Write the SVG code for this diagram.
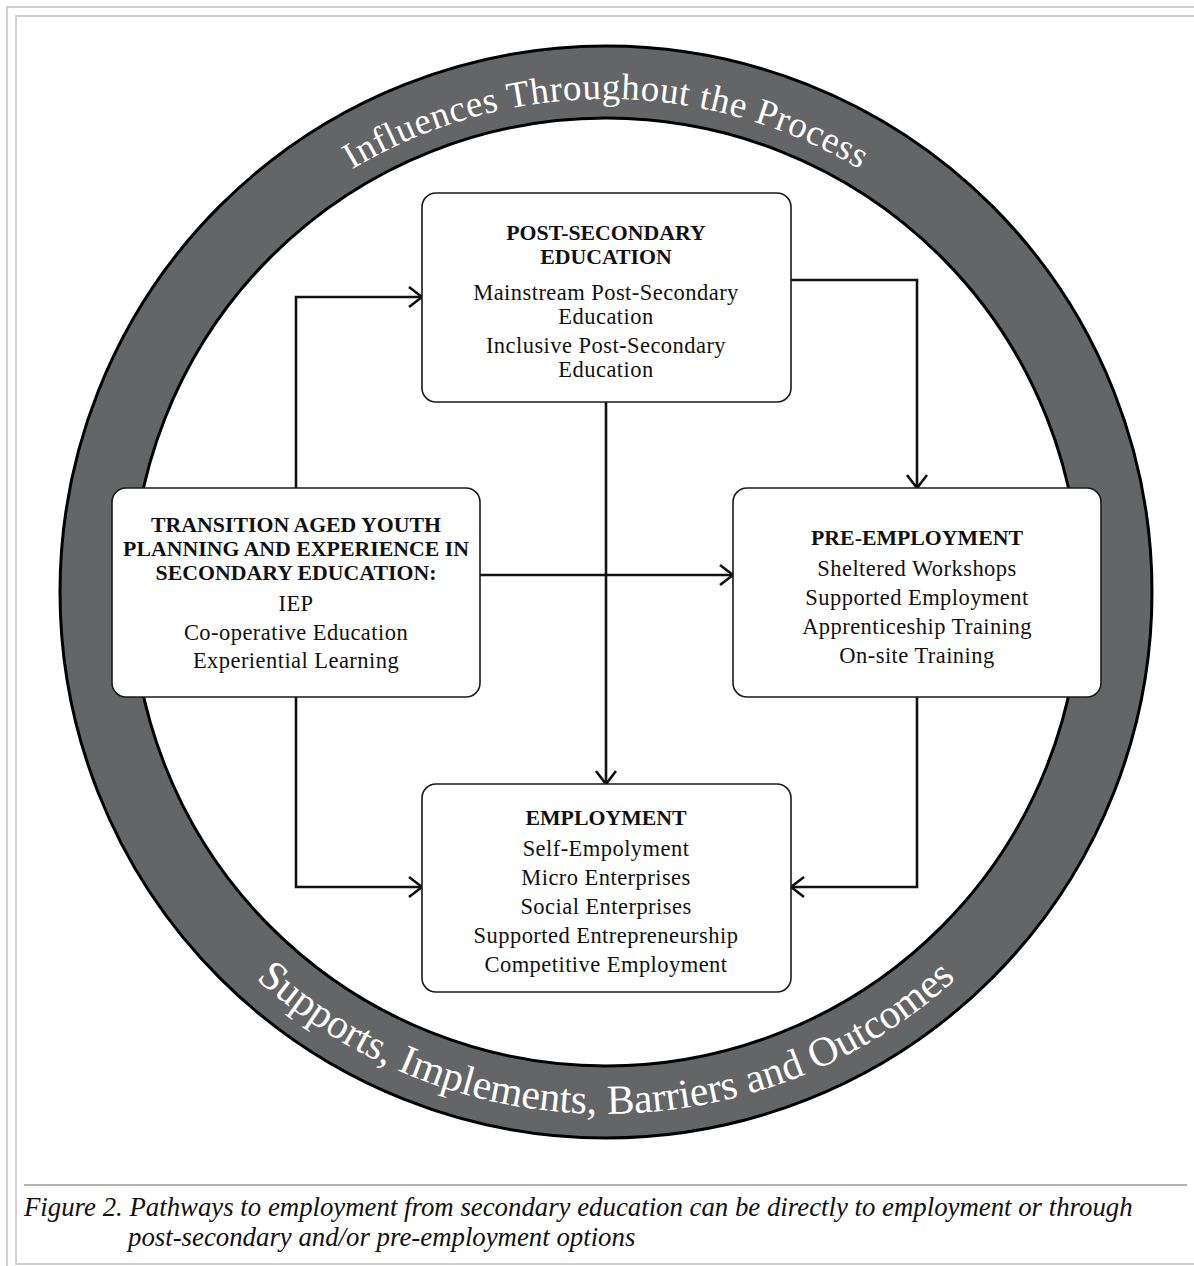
<svg xmlns="http://www.w3.org/2000/svg" width="1194" height="1266" viewBox="0 0 1194 1266">
<defs>
<style>
.frame{fill:none;stroke:#d0d0d0;stroke-width:2}
.box{fill:#fff;stroke:#1a1a1a;stroke-width:1.6}
.hd{font-family:"Liberation Serif","Times New Roman",serif;font-weight:bold;font-size:21.8px;fill:#111;text-anchor:middle}
.tx{font-family:"Liberation Serif","Times New Roman",serif;font-size:22.5px;letter-spacing:0.45px;fill:#111;text-anchor:middle}
.ring{font-family:"Liberation Serif","Times New Roman",serif;fill:#fff}
.cap{font-family:"Liberation Serif","Times New Roman",serif;font-style:italic;font-size:26.8px;fill:#111}
.con{fill:none;stroke:#111;stroke-width:2.6;marker-end:url(#arr)}
</style>
<marker id="arr" markerUnits="userSpaceOnUse" viewBox="-16 -13 18 26" refX="0" refY="0" markerWidth="18" markerHeight="26" orient="auto" overflow="visible">
<path d="M-13,-10 L0,0 L-13,10" fill="none" stroke="#111" stroke-width="2.6"/>
</marker>
<path id="topArc" d="M113,592 A493,493 0 0 1 1099,592"/>
<path id="botArc" d="M84,592 A522,522 0 0 0 1128,592"/>
</defs>
<rect width="1194" height="1266" fill="#fff"/>
<g id="frame">
<rect class="frame" x="7" y="7" width="1200" height="1270"/>
<rect class="frame" x="16" y="16" width="1200" height="1248"/>
<line x1="24" y1="1185" x2="1187" y2="1185" stroke="#999" stroke-width="1.5"/>
</g>
<g id="ring">
<circle cx="606" cy="592" r="546" fill="#646567" stroke="#000" stroke-width="3"/>
<circle cx="606" cy="592" r="474" fill="#fff" stroke="#000" stroke-width="3"/>
<text class="ring" font-size="37" letter-spacing="0.6"><textPath href="#topArc" startOffset="50%" text-anchor="middle">Influences Throughout the Process</textPath></text>
<text class="ring" font-size="41.5"><textPath href="#botArc" startOffset="50%" text-anchor="middle">Supports, Implements, Barriers and Outcomes</textPath></text>
</g>
<g id="connectors">
<path class="con" d="M296,488 V297 H422"/>
<path class="con" d="M791,280 H917 V488"/>
<path class="con" d="M480,575 H733"/>
<path class="con" d="M606,402 V784"/>
<path class="con" d="M296,697 V887 H422"/>
<path class="con" d="M917,697 V887 H791"/>
</g>
<g id="node-postsecondary">
<rect class="box" x="422" y="193" width="369" height="209" rx="14"/>
<text class="hd" x="606" y="240">POST-SECONDARY</text>
<text class="hd" x="606" y="264">EDUCATION</text>
<text class="tx" x="606" y="300">Mainstream Post-Secondary</text>
<text class="tx" x="606" y="324">Education</text>
<text class="tx" x="606" y="353">Inclusive Post-Secondary</text>
<text class="tx" x="606" y="377">Education</text>
</g>
<g id="node-transition">
<rect class="box" x="112" y="488" width="368" height="209" rx="14"/>
<text class="hd" x="296" y="532">TRANSITION AGED YOUTH</text>
<text class="hd" x="296" y="556">PLANNING AND EXPERIENCE IN</text>
<text class="hd" x="296" y="580">SECONDARY EDUCATION:</text>
<text class="tx" x="296" y="611">IEP</text>
<text class="tx" x="296" y="640">Co-operative Education</text>
<text class="tx" x="296" y="668">Experiential Learning</text>
</g>
<g id="node-preemployment">
<rect class="box" x="733" y="488" width="368" height="209" rx="14"/>
<text class="hd" x="917" y="545">PRE-EMPLOYMENT</text>
<text class="tx" x="917" y="576">Sheltered Workshops</text>
<text class="tx" x="917" y="605">Supported Employment</text>
<text class="tx" x="917" y="634">Apprenticeship Training</text>
<text class="tx" x="917" y="663">On-site Training</text>
</g>
<g id="node-employment">
<rect class="box" x="422" y="784" width="369" height="208" rx="14"/>
<text class="hd" x="606" y="825">EMPLOYMENT</text>
<text class="tx" x="606" y="856">Self-Empolyment</text>
<text class="tx" x="606" y="885">Micro Enterprises</text>
<text class="tx" x="606" y="914">Social Enterprises</text>
<text class="tx" x="606" y="943">Supported Entrepreneurship</text>
<text class="tx" x="606" y="972">Competitive Employment</text>
</g>
<g id="caption">
<text class="cap" x="24" y="1216">Figure 2. Pathways to employment from secondary education can be directly to employment or through</text>
<text class="cap" x="128" y="1246">post-secondary and/or pre-employment options</text>
</g>
</svg>
